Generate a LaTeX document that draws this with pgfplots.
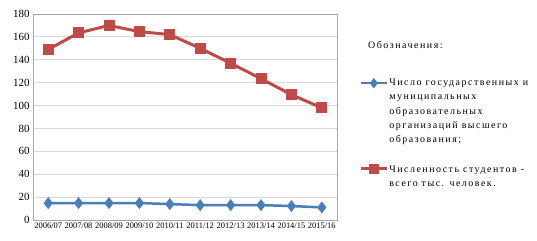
\documentclass[border=0pt]{standalone}
\usepackage{pgfplots}
\pgfplotsset{compat=1.18}
\usepackage{fontspec}
\setmainfont{Liberation Serif}
\newfontfamily\legfont[LetterSpace=15]{Liberation Serif}
\definecolor{xblue}{HTML}{4A7EBB}
\definecolor{xred}{HTML}{BE4B48}
\definecolor{xgrid}{HTML}{D9D9D9}
\definecolor{xframe}{HTML}{A6A6A6}
\newcommand{\lent}[1]{\parbox[t]{160bp}{\raggedright\legfont\fontsize{10}{14.3}\selectfont #1}}
\begin{document}
\begin{tikzpicture}[x=1bp,y=1bp]
\useasboundingbox (0,0) rectangle (537,240);
\begin{axis}[
  at={(33bp,20bp)}, anchor=south west,
  scale only axis, width=304bp, height=206bp,
  xmin=-0.5, xmax=9.5, ymin=0, ymax=180,
  ytick={0,20,...,180},
  xtick={0,...,9},
  xticklabels={2006/07,2007/08,2008/09,2009/10,2010/11,2011/12,2012/13,2013/14,2014/15,2015/16},
  x tick label style={font=\fontsize{8.5}{9}\selectfont, yshift=1bp},
  y tick label style={font=\fontsize{11}{12}\selectfont},
  /pgf/number format/assume math mode=true,
  major x tick style={draw=none},
  extra x ticks={-0.5,0.5,...,9.5},
  extra x tick labels={},
  extra x tick style={major tick length=4bp, tick align=outside, tick style={xframe}},
  ymajorgrids, grid style={xgrid, line width=0.8bp},
  major y tick style={draw=none},
  axis line style={xframe},
  legend cell align=left,
  legend style={at={(1.063,0.70)}, anchor=north west, draw=none, fill=none,
    font=\fontsize{10}{14.3}\selectfont,
    nodes={inner sep=1bp, text depth=, text height=},
    row sep=19bp},
]
\addplot[xblue, line width=2.5bp, mark=diamond*, mark size=4bp, mark options={solid, fill=xblue, draw=xblue},
  legend image code/.code={%
    \draw[mark repeat=2,mark phase=2, yshift=28.6bp, mark options={scale=0.8}] plot coordinates {(0bp,0bp) (13bp,0bp) (26bp,0bp)};}]
  coordinates {(0,14.8) (1,14.8) (2,14.8) (3,14.8) (4,13.9) (5,13.0) (6,13.0) (7,13.0) (8,12.2) (9,11.0)};
\addlegendentry{\lent{Число государственных и\par муниципальных\par образовательных\par организаций высшего\par образования;}}
\addplot[xred, line width=3bp, mark=square*, mark size=4bp, mark options={solid, fill=xred, draw=xred},
  legend image code/.code={%
    \draw[mark repeat=2,mark phase=2, yshift=7.15bp, mark options={scale=0.8}] plot coordinates {(0bp,0bp) (13bp,0bp) (26bp,0bp)};}]
  coordinates {(0,149) (1,163.5) (2,170) (3,164.6) (4,162) (5,150) (6,137) (7,123.5) (8,109.5) (9,98)};
\addlegendentry{\lent{Численность студентов -\par всего тыс. человек.}}
\end{axis}
\node[anchor=west, font=\legfont\fontsize{10}{12}\selectfont, inner sep=0pt] at (368,195) {Обозначения:};
\end{tikzpicture}
\end{document}
